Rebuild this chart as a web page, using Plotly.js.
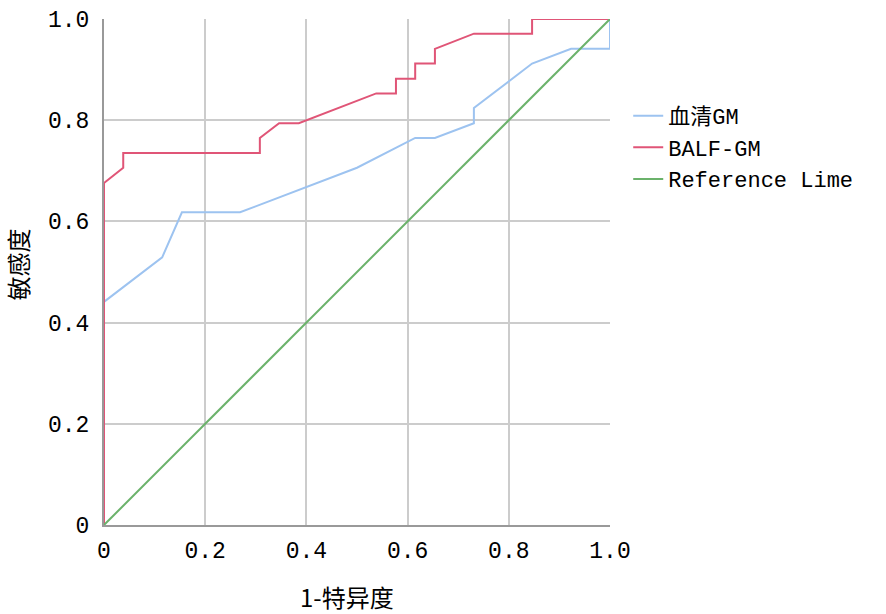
<!DOCTYPE html>
<html>
<head>
<meta charset="utf-8">
<script src="https://cdn.plot.ly/plotly-3.0.1.min.js"></script>
<style>html,body{margin:0;padding:0;background:#fff;}#chart{width:886px;height:614px;}</style>
</head>
<body>
<div id="chart"></div>
<script>
// Serum GM ROC curve
const serumX = [0, 0, 0.115, 0.154, 0.269, 0.500, 0.615, 0.654, 0.731, 0.731, 0.846, 0.923, 1.0, 1.0];
const serumY = [0, 0.441, 0.529, 0.618, 0.618, 0.706, 0.765, 0.765, 0.794, 0.824, 0.912, 0.941, 0.941, 1.0];
// BALF GM ROC curve
const balfX = [0, 0, 0.038, 0.038, 0.308, 0.308, 0.346, 0.385, 0.538, 0.577, 0.577, 0.615, 0.615, 0.654, 0.654, 0.731, 0.846, 0.846, 1.0];
const balfY = [0, 0.676, 0.706, 0.735, 0.735, 0.765, 0.794, 0.794, 0.853, 0.853, 0.882, 0.882, 0.912, 0.912, 0.941, 0.971, 0.971, 1.0, 1.0];
// Reference line
const refX = [0, 1];
const refY = [0, 1];
const seriesNames = ['血清GM', 'BALF-GM', 'Reference Lime'];
const tickVals = [0, 0.2, 0.4, 0.6, 0.8, 1.0];
const tickText = ['0', '0.2', '0.4', '0.6', '0.8', '1.0'];
const xTitle = '1-特异度';
const yTitle = '敏感度';

const mono = 'Liberation Mono, Noto Sans CJK SC, monospace';
const cjk = 'Noto Sans CJK SC, sans-serif';

const traces = [
  {x: serumX, y: serumY, mode: 'lines', name: seriesNames[0], line: {color: '#9dc3f0', width: 2}},
  {x: balfX, y: balfY, mode: 'lines', name: seriesNames[1], line: {color: '#e05577', width: 2}},
  {x: refX, y: refY, mode: 'lines', name: seriesNames[2], line: {color: '#6bb26b', width: 2}}
];

const axisCommon = {
  range: [0, 1],
  tickvals: tickVals,
  ticktext: tickText,
  showgrid: true,
  gridcolor: '#cccccc',
  gridwidth: 2,
  zeroline: false,
  showline: true,
  linecolor: '#999999',
  linewidth: 2,
  ticks: '',
  tickfont: {family: mono, size: 23, color: '#000'},
  fixedrange: true
};

const layout = {
  width: 886, height: 614,
  margin: {l: 104, r: 276, t: 19, b: 89},
  paper_bgcolor: '#fff', plot_bgcolor: '#fff',
  showlegend: true,
  legend: {
    x: 1.036, y: 0.85, xanchor: 'left', yanchor: 'top',
    font: {family: mono, size: 22, color: '#000'},
    bgcolor: 'rgba(0,0,0,0)', borderwidth: 0,
    tracegroupgap: 0
  },
  xaxis: Object.assign({}, axisCommon, {ticklabelstandoff: 3}),
  yaxis: Object.assign({}, axisCommon, {ticklabelstandoff: 8}),
  annotations: [
    {xref: 'paper', yref: 'paper', x: 0.48, y: -0.142, xanchor: 'center', yanchor: 'middle',
     text: xTitle, showarrow: false, borderpad: 0, font: {family: cjk, size: 24, color: '#000'}},
    {xref: 'paper', yref: 'paper', x: -0.172, y: 0.515, xanchor: 'center', yanchor: 'middle',
     text: yTitle, textangle: -90, showarrow: false, borderpad: 0, font: {family: cjk, size: 24, color: '#000'}}
  ]
};

Plotly.newPlot('chart', traces, layout, {displayModeBar: false, staticPlot: true});
</script>
</body>
</html>
